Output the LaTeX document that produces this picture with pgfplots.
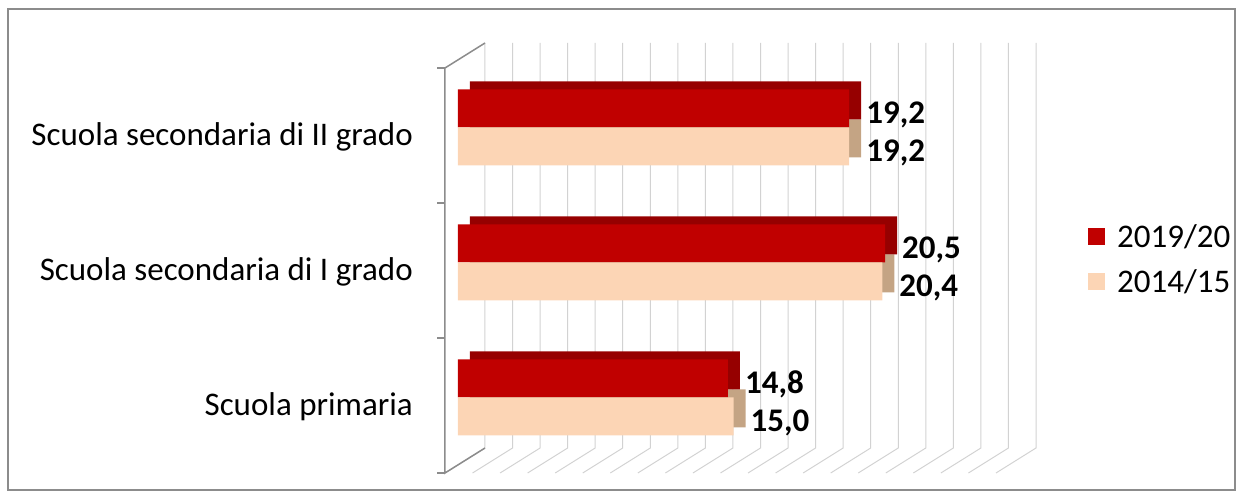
\documentclass[border=0pt]{standalone}
\usepackage{pgfplots}
\pgfplotsset{compat=1.18}
\usepackage{pgfplotstable}
\usepackage{fontspec}
\setmainfont{Carlito}
\definecolor{redfront}{HTML}{C00000}
\definecolor{redside}{HTML}{960000}
\definecolor{beigefront}{HTML}{FCD5B5}
\definecolor{beigeside}{HTML}{C4A484}
\definecolor{gridc}{HTML}{D2D2D2}
\definecolor{wallc}{HTML}{8C8C8C}

\pgfplotstableread{
y v
0 14.8
1 20.5
2 19.2
}\redtab
\pgfplotstableread{
y v
0 15.0
1 20.4
2 19.2
}\beigetab

\begin{document}
\begin{tikzpicture}[x=1pt,y=1pt]
\path[use as bounding box] (0,0) rectangle (1243,498);
\draw[wallc, line width=1.5pt] (8,8) rectangle (1235,489);
\begin{axis}[
  at={(458pt,33pt)}, anchor=south west,
  width=551pt, height=405pt, scale only axis,
  xmin=0, xmax=20, ymin=-0.5, ymax=2.5,
  clip=false,
  axis line style={draw=none},
  xtick=\empty,
  ytick={0,1,2},
  yticklabels={Scuola primaria, Scuola secondaria di I grado, Scuola secondaria di II grado},
  major tick length=0pt,
  yticklabel style={font=\fontsize{33}{40}\selectfont, anchor=east, inner sep=0pt, xshift=-45pt, yshift=-9pt},
  point meta=explicit,
  /pgf/number format/fixed, /pgf/number format/fixed zerofill,
  /pgf/number format/precision=1, /pgf/number format/use comma,
  /pgf/number format/assume math mode=true,
  legend image code/.code={\fill[#1] (0pt,-8.5pt) rectangle (17pt,8.5pt);},
  legend style={at={(1.1434,0.600)}, anchor=north west, draw=none, fill=none,
    font=\fontsize{33}{40}\selectfont, inner sep=0pt, row sep=17pt, column sep=10pt,
    cells={anchor=west}},
]
\pgfplotsinvokeforeach{0,...,20}{
  \draw[gridc, line width=1pt] ([xshift=-13pt,yshift=-8pt]axis cs:#1,-0.5) -- ([xshift=27pt,yshift=17pt]axis cs:#1,-0.5) -- ([xshift=27pt,yshift=17pt]axis cs:#1,2.5);
}
\draw[wallc, line width=1.5pt] ([xshift=27pt,yshift=17pt]axis cs:0,2.5) -- ([xshift=-13pt,yshift=-8pt]axis cs:0,2.5) -- ([xshift=-13pt,yshift=-8pt]axis cs:0,-0.5) -- ([xshift=27pt,yshift=17pt]axis cs:0,-0.5);
\pgfplotsinvokeforeach{-0.5,0.5,1.5,2.5}{
  \draw[wallc, line width=1.5pt] ([xshift=-13pt,yshift=-8pt]axis cs:0,#1) -- ++(-8pt,0pt);
}
% 3D depth (shadow) copies
\addplot[xbar, bar width=38pt, bar shift=-19pt, fill=beigeside, draw=none, xshift=12pt, yshift=8pt, forget plot]
  table[x expr=\thisrow{v}-5, y=y, meta=v] {\beigetab};
\addplot[xbar, bar width=38pt, bar shift=19pt, fill=redside, draw=none, xshift=12pt, yshift=8pt, forget plot]
  table[x expr=\thisrow{v}-5, y=y, meta=v] {\redtab};
% front faces
\addplot[xbar, bar width=38pt, bar shift=19pt, fill=redfront, draw=none,
  nodes near coords, nodes near coords style={font=\fontsize{33}{40}\selectfont\bfseries, text=black, anchor=west, inner sep=0pt, xshift=17pt, yshift=13pt}]
  table[x expr=\thisrow{v}-5, y=y, meta=v] {\redtab};
\addplot[xbar, bar width=38pt, bar shift=-19pt, fill=beigefront, draw=none,
  nodes near coords, nodes near coords style={font=\fontsize{33}{40}\selectfont\bfseries, text=black, anchor=west, inner sep=0pt, xshift=17pt, yshift=-25pt}]
  table[x expr=\thisrow{v}-5, y=y, meta=v] {\beigetab};
\legend{2019/20, 2014/15}
\end{axis}
\end{tikzpicture}
\end{document}
